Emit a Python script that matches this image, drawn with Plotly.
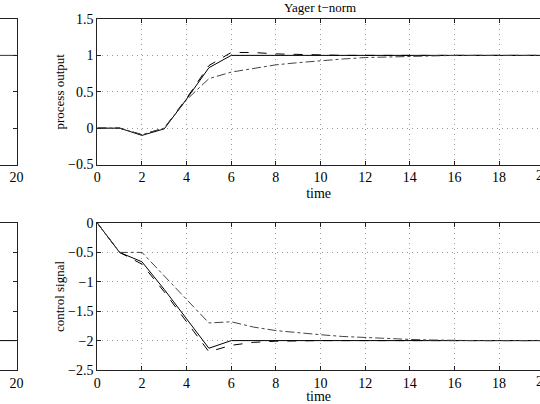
import plotly.graph_objects as go

# ---- data ----
t = list(range(0, 21))

out_solid = [0, 0, -0.10, -0.01, 0.40, 0.83, 1.00, 1.00, 1.00, 1.00, 1.00,
             1.00, 1.00, 1.00, 1.00, 1.00, 1.00, 1.00, 1.00, 1.00, 1.00]
out_dashed = [0, 0, -0.09, 0.00, 0.41, 0.86, 1.04, 1.04, 1.02, 1.01, 1.01,
              1.00, 1.00, 1.00, 1.00, 1.00, 1.00, 1.00, 1.00, 1.00, 1.00]
out_dashdot = [0, 0, -0.09, 0.00, 0.39, 0.68, 0.77, 0.82, 0.87, 0.90, 0.93,
               0.95, 0.97, 0.98, 0.99, 0.99, 1.00, 1.00, 1.00, 1.00, 1.00]

u_solid = [0, -0.50, -0.66, -1.13, -1.63, -2.13, -2.00, -2.00, -2.00, -2.00, -2.00,
           -2.00, -2.00, -2.00, -2.00, -2.00, -2.00, -2.00, -2.00, -2.00, -2.00]
u_dashed = [0, -0.50, -0.70, -1.17, -1.68, -2.19, -2.08, -2.03, -2.01, -2.00, -2.00,
            -2.00, -2.00, -2.00, -2.00, -2.00, -2.00, -2.00, -2.00, -2.00, -2.00]
u_dashdot = [0, -0.50, -0.50, -0.90, -1.30, -1.70, -1.68, -1.77, -1.83, -1.87, -1.90,
             -1.93, -1.95, -1.97, -1.98, -1.99, -2.00, -2.00, -2.00, -2.00, -2.00]

# partially visible left-hand panels (only their right end is in view)
left_t = [19, 20]
left_out = [1.0, 1.0]
left_u = [-2.0, -2.0]

title_text = "Yager t\u2212norm"
xlabel = "time"
ylabel_top = "process output"
ylabel_bot = "control signal"

FONT = "Liberation Serif"
fig = go.Figure()

def add_lines(xa, ya, s, d, dd):
    fig.add_trace(go.Scatter(x=t, y=s, mode="lines", xaxis=xa, yaxis=ya,
                             line=dict(color="black", width=1)))
    fig.add_trace(go.Scatter(x=t, y=d, mode="lines", xaxis=xa, yaxis=ya,
                             line=dict(color="black", width=1, dash="dash")))
    fig.add_trace(go.Scatter(x=t, y=dd, mode="lines", xaxis=xa, yaxis=ya,
                             line=dict(color="#444", width=1, dash="dashdot")))

add_lines("x2", "y2", out_solid, out_dashed, out_dashdot)
add_lines("x4", "y4", u_solid, u_dashed, u_dashdot)
fig.add_trace(go.Scatter(x=left_t, y=left_out, mode="lines", xaxis="x", yaxis="y",
                         line=dict(color="#333", width=1)))
fig.add_trace(go.Scatter(x=left_t, y=left_u, mode="lines", xaxis="x3", yaxis="y3",
                         line=dict(color="black", width=1)))

W, H = 540, 404
left_dom = [0, 16.5 / W]
right_dom = [97.3 / W, 1.0]
top_dom = [1 - 164.5 / H, 1 - 19 / H]
bot_dom = [1 - 370 / H, 1 - 223 / H]
xr_right = (W - 97.3) / 22.32

tickfont = dict(family=FONT, size=14, color="black")
common = dict(showline=True, linecolor="#222", linewidth=1, ticks="inside",
              ticklen=4, tickcolor="#222", tickfont=tickfont, zeroline=False,
              automargin=False)
grid = dict(showgrid=True, gridcolor="#999", griddash="1px,4px", gridwidth=1)

fig.update_layout(
    width=W, height=H, margin=dict(l=0, r=0, t=0, b=0),
    paper_bgcolor="white", plot_bgcolor="white", showlegend=False,
    font=dict(family=FONT, size=13, color="black"),
    # left panels (cut off)
    xaxis=dict(domain=left_dom, anchor="y", range=[19.3, 20], dtick=2, tick0=0,
               mirror="ticks", showgrid=False, **common),
    yaxis=dict(domain=top_dom, anchor="x", range=[-0.5, 1.5], dtick=0.5, side="right",
               showticklabels=False, showgrid=False, **common),
    xaxis3=dict(domain=left_dom, anchor="y3", range=[19.3, 20], dtick=2, tick0=0,
                mirror="ticks", showgrid=False, **common),
    yaxis3=dict(domain=bot_dom, anchor="x3", range=[-2.5, 0], dtick=0.5, side="right",
                showticklabels=False, showgrid=False, **common),
    # right panels
    xaxis2=dict(domain=right_dom, anchor="y2", range=[0, xr_right], dtick=2, tick0=0,
                mirror="ticks", title=dict(text=xlabel, standoff=3, font=dict(size=14)),
                **grid, **common),
    yaxis2=dict(domain=top_dom, anchor="x2", range=[-0.5, 1.5], dtick=0.5,
                title=dict(text=ylabel_top, standoff=0, font=dict(size=13)),
                **grid, **common),
    xaxis4=dict(domain=right_dom, anchor="y4", range=[0, xr_right], dtick=2, tick0=0,
                mirror="ticks", title=dict(text=xlabel, standoff=3, font=dict(size=14)),
                **grid, **common),
    yaxis4=dict(domain=bot_dom, anchor="x4", range=[-2.5, 0], dtick=0.5,
                title=dict(text=ylabel_bot, standoff=0, font=dict(size=13)),
                **grid, **common),
)

# title of the right-hand panels
fig.add_annotation(text=title_text, xref="paper", yref="paper",
                   x=320 / W, y=1 - 7 / H, xanchor="center", yanchor="middle",
                   showarrow=False, font=dict(family=FONT, size=13))
# the "20" tick labels that fall just past the right edge of the picture
for ybot in (164.5, 370):
    fig.add_annotation(text="20", xref="paper", yref="paper",
                       x=543 / W, y=1 - (ybot + 11) / H,
                       xanchor="center", yanchor="middle", showarrow=False,
                       font=dict(family=FONT, size=14))

fig.write_html("out.html")
